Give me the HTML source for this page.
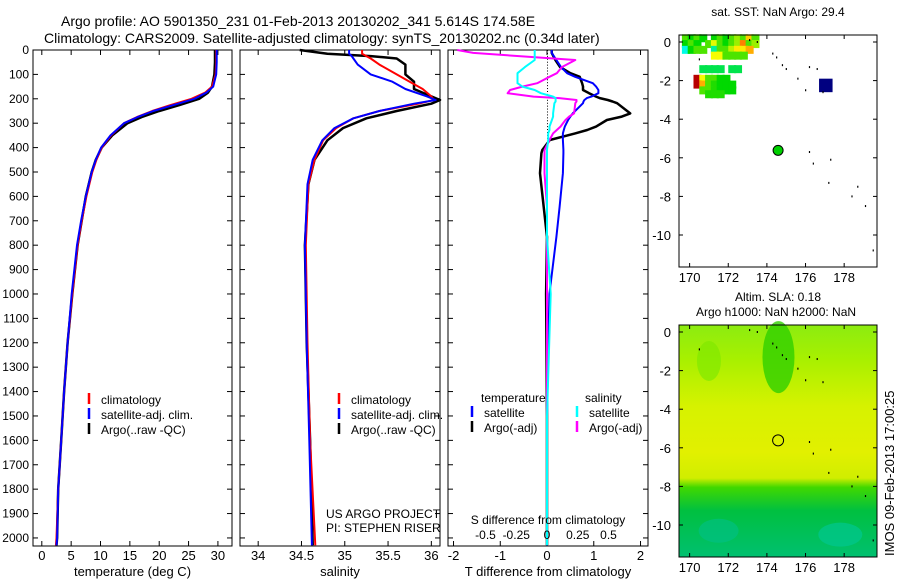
<!DOCTYPE html>
<html><head><meta charset="utf-8">
<style>
html,body{margin:0;padding:0;background:#fff;}
svg{display:block;font-family:"Liberation Sans",sans-serif;}
text{fill:#000;}
</style></head>
<body>
<svg id="fig" width="900" height="580" viewBox="0 0 900 580" xmlns="http://www.w3.org/2000/svg">
<text x="61" y="26" font-size="14">Argo profile: AO 5901350_231 01-Feb-2013 20130202_341 5.614S 174.58E</text>
<text x="44" y="43" font-size="14">Climatology: CARS2009. Satellite-adjusted climatology: synTS_20130202.nc (0.34d later)</text>
<g id="layer"></g>
</svg>
<script>
// ---------- data ----------
const depthTicks=[0,100,200,300,400,500,600,700,800,900,1000,1100,1200,1300,1400,1500,1600,1700,1800,1900,2000];
const tempTicks=[0,5,10,15,20,25,30];
const salTicks=[34,34.5,35,35.5,36];
const tdiffTicks=[-2,-1,0,1,2];
const sdiffTicks=[-0.5,-0.25,0,0.25,0.5];
const lonTicks=[170,172,174,176,178];
const latTicks=[0,-2,-4,-6,-8,-10];

const tDepth=[0,50,100,150,175,200,225,250,275,300,350,400,450,500,600,700,800,1000,1200,1400,1600,1800,2000,2030];
const tClim=[29.7,29.7,29.6,29.0,27.8,25.5,22.0,18.8,16.2,14.0,11.8,10.2,9.3,8.6,7.6,6.8,6.1,5.2,4.4,3.8,3.3,2.8,2.5,2.4];
const tSat=[29.8,29.8,29.7,29.2,28.0,26.0,22.5,19.0,16.3,14.0,11.7,10.1,9.2,8.5,7.5,6.7,6.0,5.1,4.4,3.8,3.3,2.8,2.6,2.5];
const tArgo=[29.5,29.5,29.4,29.0,28.3,26.8,23.5,20.0,17.0,14.6,12.0,10.2,9.2,8.5,7.5,6.8,6.1,5.2,4.4,3.8,3.3,2.8,2.6,2.5];

const sDepth=[0,15,25,35,60,100,130,160,190,205,220,250,280,320,370,450,550,800,1200,1600,2030];
const sClim=[35.2,35.2,35.25,35.3,35.4,35.6,35.75,35.9,36.0,36.03,35.85,35.4,35.1,34.9,34.75,34.65,34.58,34.55,34.57,34.6,34.66];
const sSat=[35.05,35.05,35.08,35.1,35.15,35.3,35.55,35.7,35.95,36.05,35.8,35.4,35.1,34.88,34.74,34.63,34.57,34.54,34.56,34.59,34.62];
const sArgo=[34.48,34.8,35.3,35.6,35.7,35.7,35.8,35.8,36.0,36.1,36.0,35.6,35.25,34.98,34.8,34.65,34.58,34.54,34.56,34.6,34.63];

const dDepth=[0,12,41,70,95,110,136,150,164,177,191,197,205,211,218,260,273,287,314,328,342,369,410,423,505,643,766,1000,1500,2030];
const dTsat=[0.1,0.1,0.2,0.3,0.43,0.6,0.98,1.05,1.1,1.1,0.95,0.85,0.8,0.78,0.77,0.55,0.5,0.45,0.38,0.36,0.34,0.34,0.35,0.35,0.34,0.27,0.2,0.05,0.0,0.0];
const dTargo=[0.1,0.1,0.18,0.28,0.5,0.7,0.75,0.77,0.77,0.9,1.05,1.13,1.3,1.4,1.5,1.78,1.6,1.28,1.05,0.86,0.6,0.06,-0.1,-0.12,-0.15,-0.07,0.0,-0.02,0.0,0.0];
const dSsat=[-0.1,-0.1,-0.1,-0.18,-0.24,-0.24,-0.24,-0.2,-0.1,-0.05,0.05,0.07,0.07,0.07,0.06,0.05,0.05,0.04,0.02,0.02,0.01,0.01,0.0,0.0,0.0,0.0,0.0,0.03,0.0,0.0];
const dSargo=[-0.73,-0.6,0.23,0.12,0.08,0.02,-0.08,-0.2,-0.3,-0.32,-0.11,0.1,0.24,0.24,0.23,0.22,0.18,0.15,0.11,0.08,0.05,0.02,-0.02,-0.02,-0.02,0.0,0.0,0.0,0.0,0.0];

const sstLon=[169.6,169.9,170.2,170.5,170.8,171.1,171.4,171.7,172.0,172.3,172.6,172.9,173.2,169.6,169.9,170.2,171.1,171.4,171.7,172.0,172.3,172.6,172.9,173.2,169.6,169.9,170.2,170.5,171.1,171.4,171.7,172.0,172.3,172.6,172.9,171.1,171.4,171.7,172.0,172.3,172.6,170.5,170.8,171.1,171.4,172.0,172.3,170.2,170.5,170.8,171.1,171.4,171.7,170.2,170.5,170.8,171.1,171.4,171.7,172.0,170.5,170.8,171.1,171.4,171.7,172.0,170.8,171.1,171.4];
const sstLat=[0.3,0.3,0.3,0.3,0.0,0.3,0.3,0.3,0.3,0.3,0.3,0.3,0.3,0.0,0.0,0.0,0.0,0.0,0.0,0.0,0.0,0.0,0.0,0.0,-0.3,-0.3,-0.3,-0.3,-0.3,-0.3,-0.3,-0.3,-0.3,-0.3,-0.3,-0.6,-0.6,-0.6,-0.6,-0.6,-0.6,-1.3,-1.3,-1.3,-1.3,-1.3,-1.3,-1.8,-1.8,-1.8,-1.8,-1.8,-1.8,-2.1,-2.1,-2.1,-2.1,-2.1,-2.1,-2.1,-2.4,-2.4,-2.4,-2.4,-2.4,-2.4,-2.6,-2.6,-2.6];
const sstVal=[0.55,0.5,0.55,0.5,0.55,0.5,0.55,0.5,0.55,0.6,0.55,0.7,0.55,0.5,0.55,0.5,0.65,0.55,0.5,0.55,0.6,0.75,0.55,0.6,0.35,0.5,0.55,0.55,0.4,0.55,0.55,0.62,0.68,0.68,0.72,0.66,0.66,0.55,0.55,0.55,0.55,0.45,0.45,0.45,0.45,0.45,0.45,0.95,0.66,0.55,0.55,0.5,0.5,0.95,0.72,0.55,0.52,0.5,0.5,0.5,0.55,0.55,0.52,0.5,0.5,0.5,0.52,0.52,0.52];

// ---------- helpers ----------
const NS="http://www.w3.org/2000/svg";
const L=document.getElementById('layer');
function mk(tag,attrs,parent){const e=document.createElementNS(NS,tag);for(const k in attrs)e.setAttribute(k,attrs[k]);(parent||L).appendChild(e);return e;}
function txt(x,y,s,size,anchor,parent){const t=mk('text',{x:x,y:y,'font-size':size||13,'text-anchor':anchor||'start'},parent);t.textContent=s;return t;}

const TOP=50, BOT=546, D0=0, D1=2033;
function yD(d){return TOP+(d-D0)/(D1-D0)*(BOT-TOP);}

function panel(name,x0,x1,v0,v1,ticks,labels,xlabel){
  const g=mk('g',{});
  
  
  const fx=v=>x0+(v-v0)/(v1-v0)*(x1-x0);
  const fr=mk('rect',{x:x0,y:TOP,width:x1-x0,height:BOT-TOP,fill:'none',stroke:'#000','stroke-width':1},g);
  
  
  ticks.forEach((v,i)=>{const x=fx(v);
    mk('line',{x1:x,x2:x,y1:TOP,y2:TOP+5,stroke:'#000'},g);
    mk('line',{x1:x,x2:x,y1:BOT,y2:BOT-5,stroke:'#000'},g);
    const t=txt(x,560,labels[i],13,'middle',g);
    
    });
  depthTicks.forEach(d=>{const y=yD(d);
    mk('line',{x1:x0,x2:x0+5,y1:y,y2:y,stroke:'#000'},g);
    mk('line',{x1:x1,x2:x1-5,y1:y,y2:y,stroke:'#000'},g);});
  if(xlabel){const t=txt((x0+x1)/2,576,xlabel,13,'middle',g);
    
    }
  return {g,fx};
}
function profile(g,fx,depths,vals,color,w,name){
  let d='';depths.forEach((dep,i)=>{d+=(i?'L':'M')+fx(vals[i]).toFixed(1)+','+yD(dep).toFixed(1);});
  const p=mk('path',{d:d,fill:'none',stroke:color,'stroke-width':w,'stroke-linejoin':'round'},g);
  
  
}
function legendItem(g,x,y,color,label){
  const l=mk('line',{x1:x,x2:x,y1:y-11,y2:y,stroke:color,'stroke-width':2.5},g);
  
  
  const t=txt(x+12,y,label,12,'start',g);
  
  
}

// depth labels
depthTicks.forEach(d=>{const t=txt(29,yD(d)+4,String(d),12,'end');
  
  });

// panel 1 temperature
const p1=panel('temperature-panel',33,232,-1.5,32.4,tempTicks,tempTicks.map(String),'temperature (deg C)');
profile(p1.g,p1.fx,tDepth,tArgo,'#000',2.5,'argo-temperature-line');
profile(p1.g,p1.fx,tDepth,tClim,'#f00',2,'climatology-temperature-line');
profile(p1.g,p1.fx,tDepth,tSat,'#00f',2,'satellite-temperature-line');
legendItem(p1.g,89,404,'#f00','climatology');
legendItem(p1.g,89,419,'#00f','satellite-adj. clim.');
legendItem(p1.g,89,434,'#000','Argo(..raw -QC)');

// panel 2 salinity
const p2=panel('salinity-panel',240,440,33.79,36.1,salTicks,['34','34.5','35','35.5','36'],'salinity');
profile(p2.g,p2.fx,sDepth,sArgo,'#000',2.5,'argo-salinity-line');
profile(p2.g,p2.fx,sDepth,sClim,'#f00',2,'climatology-salinity-line');
profile(p2.g,p2.fx,sDepth,sSat,'#00f',2,'satellite-salinity-line');
legendItem(p2.g,339,404,'#f00','climatology');
legendItem(p2.g,339,419,'#00f','satellite-adj. clim.');
legendItem(p2.g,339,434,'#000','Argo(..raw -QC)');
txt(326,518,'US ARGO PROJECT',12,'start',p2.g);
txt(326,532,'PI: STEPHEN RISER',12,'start',p2.g);

// panel 3 differences
const p3=panel('difference-panel',448,648,-2.118,2.16,tdiffTicks,['-2','-1','0','1','2'],'T difference from climatology');
const fs=v=>547+v*123;
for(let d=0;d<2033;d+=12){mk('rect',{x:547,y:yD(d),width:1,height:1,fill:'#000'},p3.g);}
profile(p3.g,p3.fx,dDepth,dTargo,'#000',2.5,'argo-t-difference-line');
profile(p3.g,p3.fx,dDepth,dTsat,'#00f',2,'satellite-t-difference-line');
profile(p3.g,fs,dDepth,dSargo,'#f0f',2,'argo-s-difference-line');
profile(p3.g,fs,dDepth,dSsat,'#0ff',2,'satellite-s-difference-line');
txt(481,402,'temperature',12,'start',p3.g);
txt(585,402,'salinity',12,'start',p3.g);
legendItem(p3.g,472,417,'#00f','satellite');
legendItem(p3.g,472,432,'#000','Argo(-adj)');
legendItem(p3.g,577,417,'#0ff','satellite');
legendItem(p3.g,577,432,'#f0f','Argo(-adj)');
txt(548,524,'S difference from climatology',12,'middle',p3.g);
sdiffTicks.forEach((v,i)=>{txt(fs(v),539,['-0.5','-0.25','0','0.25','0.5'][i],12,'middle',p3.g);});

// ---------- maps ----------
const MX0=679,MX1=877,LON0=169.45,LON1=179.7;
function mapFrame(name,top,bot,lat0pix,lat10pix){
  const g=mk('g',{});
  
  
  const fx=lo=>MX0+(lo-LON0)/(LON1-LON0)*(MX1-MX0);
  const fy=la=>lat0pix+(0-la)/10*(lat10pix-lat0pix);
  return {g,fx,fy,top,bot};
}
function mapAxes(m){
  const fr=mk('rect',{x:MX0,y:m.top,width:MX1-MX0,height:m.bot-m.top,fill:'none',stroke:'#000'},m.g);
  
  
  lonTicks.forEach(lo=>{const x=m.fx(lo);
    mk('line',{x1:x,x2:x,y1:m.top,y2:m.top+4,stroke:'#000'},m.g);
    mk('line',{x1:x,x2:x,y1:m.bot,y2:m.bot-4,stroke:'#000'},m.g);
    txt(x,m.bot+15,String(lo),13,'middle',m.g);});
  latTicks.forEach(la=>{const y=m.fy(la);
    mk('line',{x1:MX0,x2:MX0+4,y1:y,y2:y,stroke:'#000'},m.g);
    mk('line',{x1:MX1,x2:MX1-4,y1:y,y2:y,stroke:'#000'},m.g);
    txt(MX0-8,y+5,String(la),13,'end',m.g);});
}
const islLon=[173.1,173.5,174.3,174.5,174.8,175.0,175.6,176.0,176.2,176.6,176.9,176.2,176.4,177.3,177.2,178.4,178.7,179.1,179.5,170.5];
const islLat=[0.1,0.0,-0.6,-0.8,-1.2,-1.4,-1.9,-2.5,-1.3,-1.4,-2.6,-5.7,-6.3,-6.1,-7.3,-8.0,-7.5,-8.5,-10.8,-0.9];

function islands(m){islLon.forEach((lo,i)=>{const r=mk('rect',{x:m.fx(lo)-0.5,y:m.fy(islLat[i])-1,width:1.2,height:2,fill:'#000'},m.g);
  
  });}

function jet(v){const c=[[0,0,0.5],[0,0,1],[0,1,1],[0,0.85,0],[1,1,0],[1,0,0],[0.6,0,0]];
  const s=v*(c.length-1);const i=Math.min(c.length-2,Math.floor(s));const f=s-i;
  const r=c[i].map((a,k)=>Math.round(255*(a+(c[i+1][k]-a)*f)));return 'rgb('+r.join(',')+')';}

// map 1 SST
const m1=mapFrame('sst-map',35,267,42,235);
txt(778,16,'sat. SST: NaN Argo: 29.4',12,'middle',m1.g);
sstLon.forEach((lo,i)=>{const r=mk('rect',{x:m1.fx(lo),y:m1.fy(sstLat[i]+0.1),width:8,height:8,fill:jet(sstVal[i])},m1.g);
  
  });
mk('rect',{x:m1.fx(176.7),y:m1.fy(-1.9),width:m1.fx(177.4)-m1.fx(176.7),height:m1.fy(-2.6)-m1.fy(-1.9),fill:'#000080'},m1.g);
islands(m1);
const am=mk('circle',{cx:m1.fx(174.58),cy:m1.fy(-5.614),r:5,fill:'#00d000',stroke:'#000'},m1.g);


mapAxes(m1);

// map 2 SLA
const m2=mapFrame('sla-map',325,557,332,525);
txt(778,301,'Altim. SLA: 0.18',12,'middle',m2.g);
txt(776,316,'Argo h1000: NaN h2000: NaN',12,'middle',m2.g);
const defs=mk('defs',{});
const gr=mk('linearGradient',{id:'slag',x1:0,y1:0,x2:0,y2:1},defs);
[['0','#8cec10'],['0.15','#a8f000'],['0.35','#d6f200'],['0.55','#e2f000'],['0.66','#d0ee00'],['0.70','#40d800'],['0.8','#00c040'],['1','#00c070']].forEach(s=>mk('stop',{offset:s[0],'stop-color':s[1]},gr));
mk('rect',{x:MX0,y:325,width:MX1-MX0,height:232,fill:'url(#slag)'},m2.g);
mk('ellipse',{cx:m2.fx(174.6),cy:m2.fy(-1.3),rx:16,ry:36,fill:'#30d000',opacity:0.8},m2.g);
mk('ellipse',{cx:m2.fx(171),cy:m2.fy(-1.5),rx:12,ry:20,fill:'#80e800',opacity:0.7},m2.g);
mk('ellipse',{cx:m2.fx(177.8),cy:m2.fy(-10.5),rx:22,ry:12,fill:'#00c890',opacity:0.7},m2.g);
mk('ellipse',{cx:m2.fx(171.5),cy:m2.fy(-10.3),rx:20,ry:12,fill:'#00c088',opacity:0.6},m2.g);
islands(m2);
const am2=mk('circle',{cx:m2.fx(174.58),cy:m2.fy(-5.614),r:5.5,fill:'none',stroke:'#000'},m2.g);


mapAxes(m2);

const st=txt(0,0,'IMOS 09-Feb-2013 17:00:25',13,'start');
st.setAttribute('transform','translate(894,556) rotate(-90)');


</script>
</body></html>
